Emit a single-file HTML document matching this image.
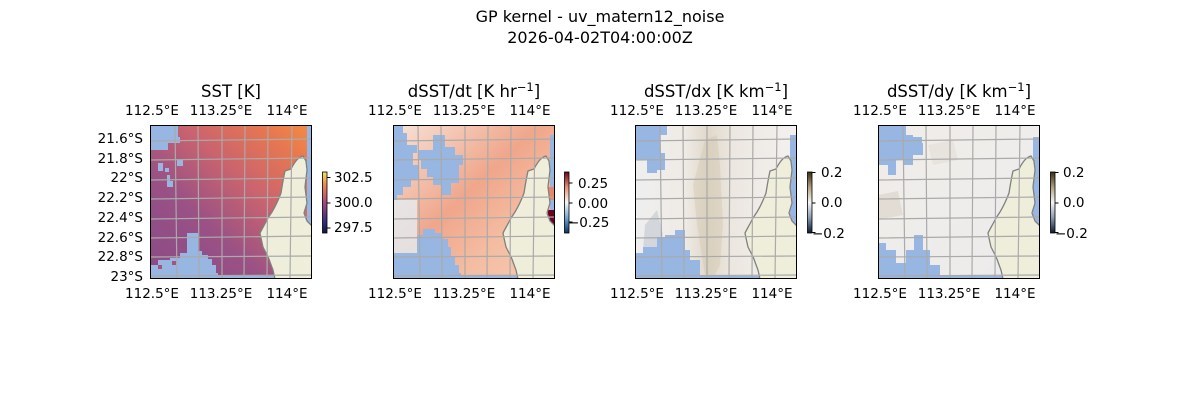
<!DOCTYPE html>
<html><head><meta charset="utf-8"><style>
html,body{margin:0;padding:0;background:#fff}
svg{display:block}
text{font-family:"DejaVu Sans","Liberation Sans",sans-serif;fill:#000}
</style></head><body>
<svg width="1200" height="400" viewBox="0 0 1200 400" xmlns="http://www.w3.org/2000/svg">
<defs>
<clipPath id="cp"><rect x="0" y="0" width="162" height="154"/></clipPath>
<linearGradient id="g1" x1="0" y1="1" x2="1" y2="0">
<stop offset="0" stop-color="#8a4a87"/><stop offset="0.35" stop-color="#9a5185"/><stop offset="0.6" stop-color="#c9636f"/><stop offset="0.85" stop-color="#e8784f"/><stop offset="1" stop-color="#f48c45"/></linearGradient>
<linearGradient id="g2" x1="0" y1="0" x2="1" y2="1">
<stop offset="0" stop-color="#f7e3d8"/><stop offset="0.45" stop-color="#f0a68b"/><stop offset="0.7" stop-color="#f4bda2"/><stop offset="1" stop-color="#f6cbb4"/></linearGradient>
<linearGradient id="g3" x1="0" y1="0" x2="1" y2="0">
<stop offset="0" stop-color="#efefef"/><stop offset="0.3" stop-color="#efebe6"/><stop offset="0.45" stop-color="#e0d8ca"/><stop offset="0.6" stop-color="#ece7e0"/><stop offset="1" stop-color="#f3f1ef"/></linearGradient>
<linearGradient id="g4" x1="0" y1="0" x2="1" y2="1">
<stop offset="0" stop-color="#efece8"/><stop offset="0.5" stop-color="#efedeb"/><stop offset="1" stop-color="#ebeaeb"/></linearGradient>
<linearGradient id="cb1" x1="0" y1="1" x2="0" y2="0"><stop offset="0" stop-color="#0d1a3a"/><stop offset="0.2" stop-color="#3a2f80"/><stop offset="0.5" stop-color="#a8477e"/><stop offset="0.8" stop-color="#f08a4c"/><stop offset="1" stop-color="#f2e35e"/></linearGradient>
<linearGradient id="cb2" x1="0" y1="1" x2="0" y2="0"><stop offset="0" stop-color="#0a3266"/><stop offset="0.25" stop-color="#6fa9d0"/><stop offset="0.5" stop-color="#f7f7f7"/><stop offset="0.75" stop-color="#ec8f70"/><stop offset="1" stop-color="#6a0120"/></linearGradient>
<linearGradient id="cb3" x1="0" y1="1" x2="0" y2="0"><stop offset="0" stop-color="#0a1a30"/><stop offset="0.25" stop-color="#8a9ab0"/><stop offset="0.5" stop-color="#f5f5f5"/><stop offset="0.75" stop-color="#b0a080"/><stop offset="1" stop-color="#3a2e12"/></linearGradient>
<g id="land">
<path d="M153,31 C148,32 144,38 141,44 L135,46 C133,55 132,62 131,68 C128,76 125,82 122,87 L118,93 C115,99 112,104 110,108 L111,113 L113,122 C116,128 119,133 120,137 L123,145 L125,154 L162,154 L162,101 L157,96 L154,88 L157,78 L155,62 L157,45 L156,36 Z" fill="#efeedb" stroke="#808080" stroke-width="1.3"/>
</g>
<g id="grid" stroke="#aaaaaa" stroke-width="1.2" fill="none">
<path d="M25,0 L27,154 M48,0 L49,154 M72,0 L72,154 M95,0 L94,154 M118,0 L117,154 M142,0 L140,154"/>
<path d="M0,16 L162,14 M0,35 L162,33 M0,55 L162,53 M0,74 L162,72 M0,94 L162,92 M0,113 L162,111 M0,132 L162,131 M0,151 L162,150"/>
</g>
</defs>

<text x="600" y="22" font-size="16" text-anchor="middle">GP kernel - uv_matern12_noise</text>
<text x="600" y="43" font-size="16" text-anchor="middle">2026-04-02T04:00:00Z</text>

<!-- Panel 1 -->
<g transform="translate(150,125)">
<g clip-path="url(#cp)">
<rect width="162" height="154" fill="url(#g1)"/>
<path d="M0,0 H28 V12 H30 V18 H18 V25 H0 Z" fill="#97b6e1"/>
<path d="M8,38 h5 v8 h-5z M15,43 h4 v4 h-4z M27,35 h6 v6 h-6z M17,50 h3 v12 h-3z M18,56 h5 v6 h-5z" fill="#97b6e1"/>
<path d="M37,108 H48 V126 H52 V130 H58 V134 H62 V140 H66 V148 H68 V154 H0 V140 H8 V135 H20 V133 H30 V128 H37 Z" fill="#97b6e1"/>
<path d="M8,140 h4 v4 h-4z M22,136 h4 v4 h-4z" fill="#a8537f"/>
<path d="M0,151 H162 V154 H0Z" fill="#97b6e1"/>
<path d="M157,0 H162 V101 H157 Z" fill="#97b6e1"/>
<use href="#land"/>
<use href="#grid"/>
</g>
<rect x="0.5" y="0.5" width="161" height="153" fill="none" stroke="#000" stroke-width="1"/>
</g>

<!-- Panel 2 -->
<g transform="translate(393,125)">
<g clip-path="url(#cp)">
<rect width="162" height="154" fill="url(#g2)"/>
<path d="M0,75 H24 V130 H0 Z" fill="#e4edf2" opacity="0.8"/>
<path d="M0,0 H10 V8 H14 V20 H24 V28 H20 V40 H26 V55 H18 V62 H10 V70 H4 V75 H0 Z" fill="#97b6e1"/>
<path d="M25,25 H40 V10 H52 V22 H62 V30 H70 V40 H66 V58 H58 V70 H48 V60 H40 V52 H34 V44 H28 V34 H25 Z" fill="#97b6e1"/>
<path d="M0,154 V128 H24 V110 H30 V104 H42 V108 H48 V114 H55 V122 H58 V132 H62 V140 H66 V148 H68 V154 Z" fill="#97b6e1"/>
<path d="M0,151 H162 V154 H0Z" fill="#97b6e1"/>
<path d="M157,10 H162 V100 H157 Z" fill="#97b6e1"/>
<path d="M155,62 H162 V75 H155 Z" fill="#e8866a"/>
<path d="M155,85 H161 V100 H155 Z" fill="#6a0120"/>
<use href="#land"/>
<use href="#grid"/>
</g>
<rect x="0.5" y="0.5" width="161" height="153" fill="none" stroke="#000" stroke-width="1"/>
</g>

<!-- Panel 3 -->
<g transform="translate(635,125)">
<g clip-path="url(#cp)">
<rect width="162" height="154" fill="url(#g3)"/>
<path d="M70,15 L82,10 L85,40 L88,100 L85,140 L78,154 L70,150 L62,100 L58,60 Z" fill="#cdbfa6" opacity="0.35"/>
<path d="M10,100 L22,85 L28,110 L20,130 L8,125 Z" fill="#aab4c2" opacity="0.4"/>
<path d="M0,0 H32 V10 H25 V28 H30 V45 H22 V48 H12 V35 H0 Z" fill="#97b6e1"/>
<path d="M0,154 V128 H8 V122 H22 V112 H30 V110 H40 V105 H50 V125 H55 V135 H65 V150 H70 V154 Z" fill="#97b6e1"/>
<path d="M0,151 H162 V154 H0Z" fill="#97b6e1"/>
<path d="M155,10 H162 V110 H155 Z" fill="#97b6e1"/>
<use href="#land"/>
<use href="#grid"/>
</g>
<rect x="0.5" y="0.5" width="161" height="153" fill="none" stroke="#000" stroke-width="1"/>
</g>

<!-- Panel 4 -->
<g transform="translate(878,125)">
<g clip-path="url(#cp)">
<rect width="162" height="154" fill="url(#g4)"/>
<path d="M0,70 L20,66 L25,90 L0,95 Z" fill="#cbbfac" opacity="0.35"/>
<path d="M50,20 L75,15 L80,35 L55,40 Z" fill="#d8cdbc" opacity="0.3"/>
<path d="M0,0 H28 V10 H35 V12 H44 V18 H45 V30 H35 V40 H25 V35 H18 V50 H10 V40 H0 Z" fill="#97b6e1"/>
<path d="M0,154 V118 H8 V125 H18 V138 H28 V125 H36 V110 H45 V125 H52 V140 H62 V154 Z" fill="#97b6e1"/>
<path d="M0,151 H162 V154 H0Z" fill="#97b6e1"/>
<path d="M155,12 H162 V108 H155 Z" fill="#97b6e1"/>
<use href="#land"/>
<use href="#grid"/>
</g>
<rect x="0.5" y="0.5" width="161" height="153" fill="none" stroke="#000" stroke-width="1"/>
</g>

<!-- Titles -->
<g font-size="16.5" text-anchor="middle">
<text x="231" y="97">SST [K]</text>
<text x="474" y="97">dSST/dt [K hr<tspan dy="-6" font-size="11.5">−1</tspan><tspan dy="6">]</tspan></text>
<text x="716" y="97">dSST/dx [K km<tspan dy="-6" font-size="11.5">−1</tspan><tspan dy="6">]</tspan></text>
<text x="959" y="97">dSST/dy [K km<tspan dy="-6" font-size="11.5">−1</tspan><tspan dy="6">]</tspan></text>
</g>

<!-- lon labels -->
<g font-size="13.5" text-anchor="middle">
<text x="152" y="115">112.5°E</text><text x="221" y="115">113.25°E</text><text x="287" y="115">114°E</text>
<text x="152" y="298">112.5°E</text><text x="221" y="298">113.25°E</text><text x="287" y="298">114°E</text>
<text x="395" y="115">112.5°E</text><text x="464" y="115">113.25°E</text><text x="530" y="115">114°E</text>
<text x="395" y="298">112.5°E</text><text x="464" y="298">113.25°E</text><text x="530" y="298">114°E</text>
<text x="637" y="115">112.5°E</text><text x="706" y="115">113.25°E</text><text x="772" y="115">114°E</text>
<text x="637" y="298">112.5°E</text><text x="706" y="298">113.25°E</text><text x="772" y="298">114°E</text>
<text x="880" y="115">112.5°E</text><text x="949" y="115">113.25°E</text><text x="1015" y="115">114°E</text>
<text x="880" y="298">112.5°E</text><text x="949" y="298">113.25°E</text><text x="1015" y="298">114°E</text>
</g>
<g font-size="13.5" text-anchor="end">
<text x="143" y="143">21.6°S</text><text x="143" y="163">21.8°S</text><text x="143" y="182">22°S</text>
<text x="143" y="202">22.2°S</text><text x="143" y="222">22.4°S</text><text x="143" y="242">22.6°S</text>
<text x="143" y="261">22.8°S</text><text x="143" y="281">23°S</text>
</g>

<!-- Colorbars -->
<g font-size="13.5">
<rect x="322.5" y="172" width="4.5" height="61" fill="url(#cb1)" stroke="#000" stroke-width="0.8"/>
<path d="M327,177.5h3.5M327,203h3.5M327,228h3.5" stroke="#000"/>
<text x="334" y="182">302.5</text><text x="334" y="207">300.0</text><text x="334" y="232">297.5</text>

<rect x="564.5" y="172" width="4.5" height="61" fill="url(#cb2)" stroke="#000" stroke-width="0.8"/>
<path d="M569,183h3.5M569,203h3.5M569,222h3.5" stroke="#000"/>
<text x="578" y="188">0.25</text><text x="578" y="208">0.00</text><text x="568" y="227">−0.25</text>

<rect x="807.5" y="172" width="4.5" height="61" fill="url(#cb3)" stroke="#000" stroke-width="0.8"/>
<path d="M812,172.5h3.5M812,203h3.5M812,232.5h3.5" stroke="#000"/>
<text x="821" y="177">0.2</text><text x="821" y="207">0.0</text><text x="812" y="238">−0.2</text>

<rect x="1050.5" y="172" width="4.5" height="61" fill="url(#cb3)" stroke="#000" stroke-width="0.8"/>
<path d="M1055,172.5h3.5M1055,203h3.5M1055,232.5h3.5" stroke="#000"/>
<text x="1063" y="177">0.2</text><text x="1063" y="207">0.0</text><text x="1055" y="238">−0.2</text>
</g>
</svg>
</body></html>
